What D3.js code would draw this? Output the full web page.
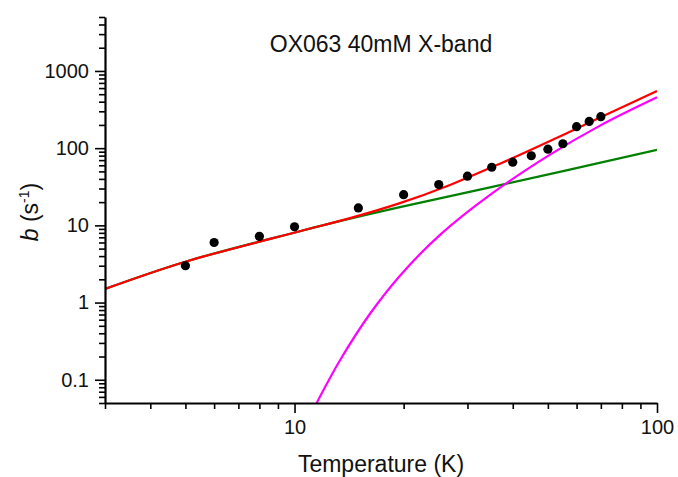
<!DOCTYPE html>
<html>
<head>
<meta charset="utf-8">
<script src="https://cdn.jsdelivr.net/npm/d3@7"></script>
<style>
  body { margin: 0; background: #fff; }
  svg { display: block; font-family: "Liberation Sans", Arial, sans-serif; }
</style>
</head>
<body>
<div id="chart"></div>
<script>
// measured points
const tempK = [5, 6, 8, 10, 15, 20, 25, 30, 35, 40, 45, 50, 55, 60, 65, 70];
const bObs = [3.0, 6.0, 7.2, 9.6, 16.8, 25.0, 33.8, 43.3, 56.6, 65.8, 79.7, 97.1, 114, 190, 222, 256];

// fit curves as [T, b]
const fitTotal = [[3, 1.5], [5, 3.38], [10.35, 8.39], [14.23, 12.4], [19.54, 19.4], [26.85, 33.4],
  [36.89, 63], [50.68, 124], [69.63, 250], [100, 550]];
const fitDirect = [[3, 1.5], [5, 3.38], [10.35, 8.39], [14.23, 12.2], [19.54, 17.2],
  [34.62, 31.0], [100, 95]];
const fitRaman = [[11.51, 0.05], [13.35, 0.179], [16.15, 0.716], [19.54, 2.23], [25.2, 7.53],
  [34.62, 24.8], [50.68, 82.4], [69.63, 196], [100, 456]];

const xMajor = [10, 100];
const xMinor = [3, 4, 5, 6, 7, 8, 9, 20, 30, 40, 50, 60, 70, 80, 90];
const yMajor = [0.1, 1, 10, 100, 1000];
const yMinor = [0.05, 0.06, 0.07, 0.08, 0.09, 0.2, 0.3, 0.4, 0.5, 0.6, 0.7, 0.8, 0.9,
  2, 3, 4, 5, 6, 7, 8, 9, 20, 30, 40, 50, 60, 70, 80, 90,
  200, 300, 400, 500, 600, 700, 800, 900, 2000, 3000, 4000, 5000];

const width = 678, height = 477;
const plotLeft = 105, plotRight = 657, plotTop = 17, plotBottom = 403;

const svg = d3.select("#chart").append("svg")
  .attr("width", width)
  .attr("height", height);

const x = d3.scaleLog().domain([3, 100]).range([plotLeft, plotRight]);
const y = d3.scaleLog().domain([0.05, 5000]).range([plotBottom, plotTop]);

svg.append("clipPath").attr("id", "plot")
  .append("rect")
  .attr("x", plotLeft).attr("y", plotTop)
  .attr("width", plotRight - plotLeft).attr("height", plotBottom - plotTop);

const line = d3.line()
  .x(d => x(d[0]))
  .y(d => y(d[1]))
  .curve(d3.curveCatmullRom);

const curves = [
  { data: fitDirect, color: "#008000" },
  { data: fitRaman, color: "#ff00ff" },
  { data: fitTotal, color: "#ff0000" }
];

curves.forEach(function(c){
  svg.append("path")
    .datum(c.data)
    .attr("clip-path", "url(#plot)")
    .attr("fill", "none")
    .attr("stroke", c.color)
    .attr("stroke-width", 2.2)
    .attr("d", line);
});

svg.append("g")
  .selectAll("circle")
  .data(tempK)
  .join("circle")
  .attr("cx", d => x(d))
  .attr("cy", (d, i) => y(bObs[i]))
  .attr("r", 4.6)
  .attr("fill", "#000");

// axes: major ticks with labels, minor ticks without
function styleAxis(g, fontSize){
  g.selectAll("path.domain").attr("stroke", "#000").attr("stroke-width", 2.2);
  g.selectAll(".tick line").attr("stroke", "#000").attr("stroke-width", 1.6);
  g.selectAll(".tick text")
    .attr("fill", "#111")
    .style("font-size", fontSize + "px")
    .style("font-family", "'Liberation Sans', Arial, sans-serif");
}

let gxMinor = svg.append("g")
  .attr("transform", `translate(0,${plotBottom})`)
  .call(d3.axisBottom(x).tickValues(xMinor).tickSize(6).tickFormat(""));
gxMinor.select("path.domain").remove();
styleAxis(gxMinor, 20);

let gx = svg.append("g")
  .attr("transform", `translate(0,${plotBottom})`)
  .call(d3.axisBottom(x).tickValues(xMajor).tickSize(10).tickPadding(7).tickSizeOuter(0)
    .tickFormat(d3.format("d")));
styleAxis(gx, 20);

let gyMinor = svg.append("g")
  .attr("transform", `translate(${plotLeft},0)`)
  .call(d3.axisLeft(y).tickValues(yMinor).tickSize(6).tickFormat(""));
gyMinor.select("path.domain").remove();
styleAxis(gyMinor, 20);

let gy = svg.append("g")
  .attr("transform", `translate(${plotLeft},0)`)
  .call(d3.axisLeft(y).tickValues(yMajor).tickSize(10).tickPadding(6).tickSizeOuter(0)
    .tickFormat(d => d < 1 ? String(d) : d3.format("d")(d)));
styleAxis(gy, 20);

// titles
svg.append("text")
  .attr("x", 381)
  .attr("y", 52)
  .attr("text-anchor", "middle")
  .attr("fill", "#111")
  .style("font-size", "23px")
  .text("OX063 40mM X-band");

svg.append("text")
  .attr("x", 381)
  .attr("y", 472)
  .attr("text-anchor", "middle")
  .attr("fill", "#111")
  .style("font-size", "23px")
  .text("Temperature (K)");

let ylab = svg.append("text")
  .attr("transform", "translate(38,212) rotate(-90)")
  .attr("text-anchor", "middle")
  .attr("fill", "#111")
  .style("font-size", "23px");
ylab.append("tspan").style("font-style", "italic").text("b");
ylab.append("tspan").text(" (s");
ylab.append("tspan").attr("dy", -9).style("font-size", "14px").text("-1");
ylab.append("tspan").attr("dy", 9).text(")");
</script>
</body>
</html>
